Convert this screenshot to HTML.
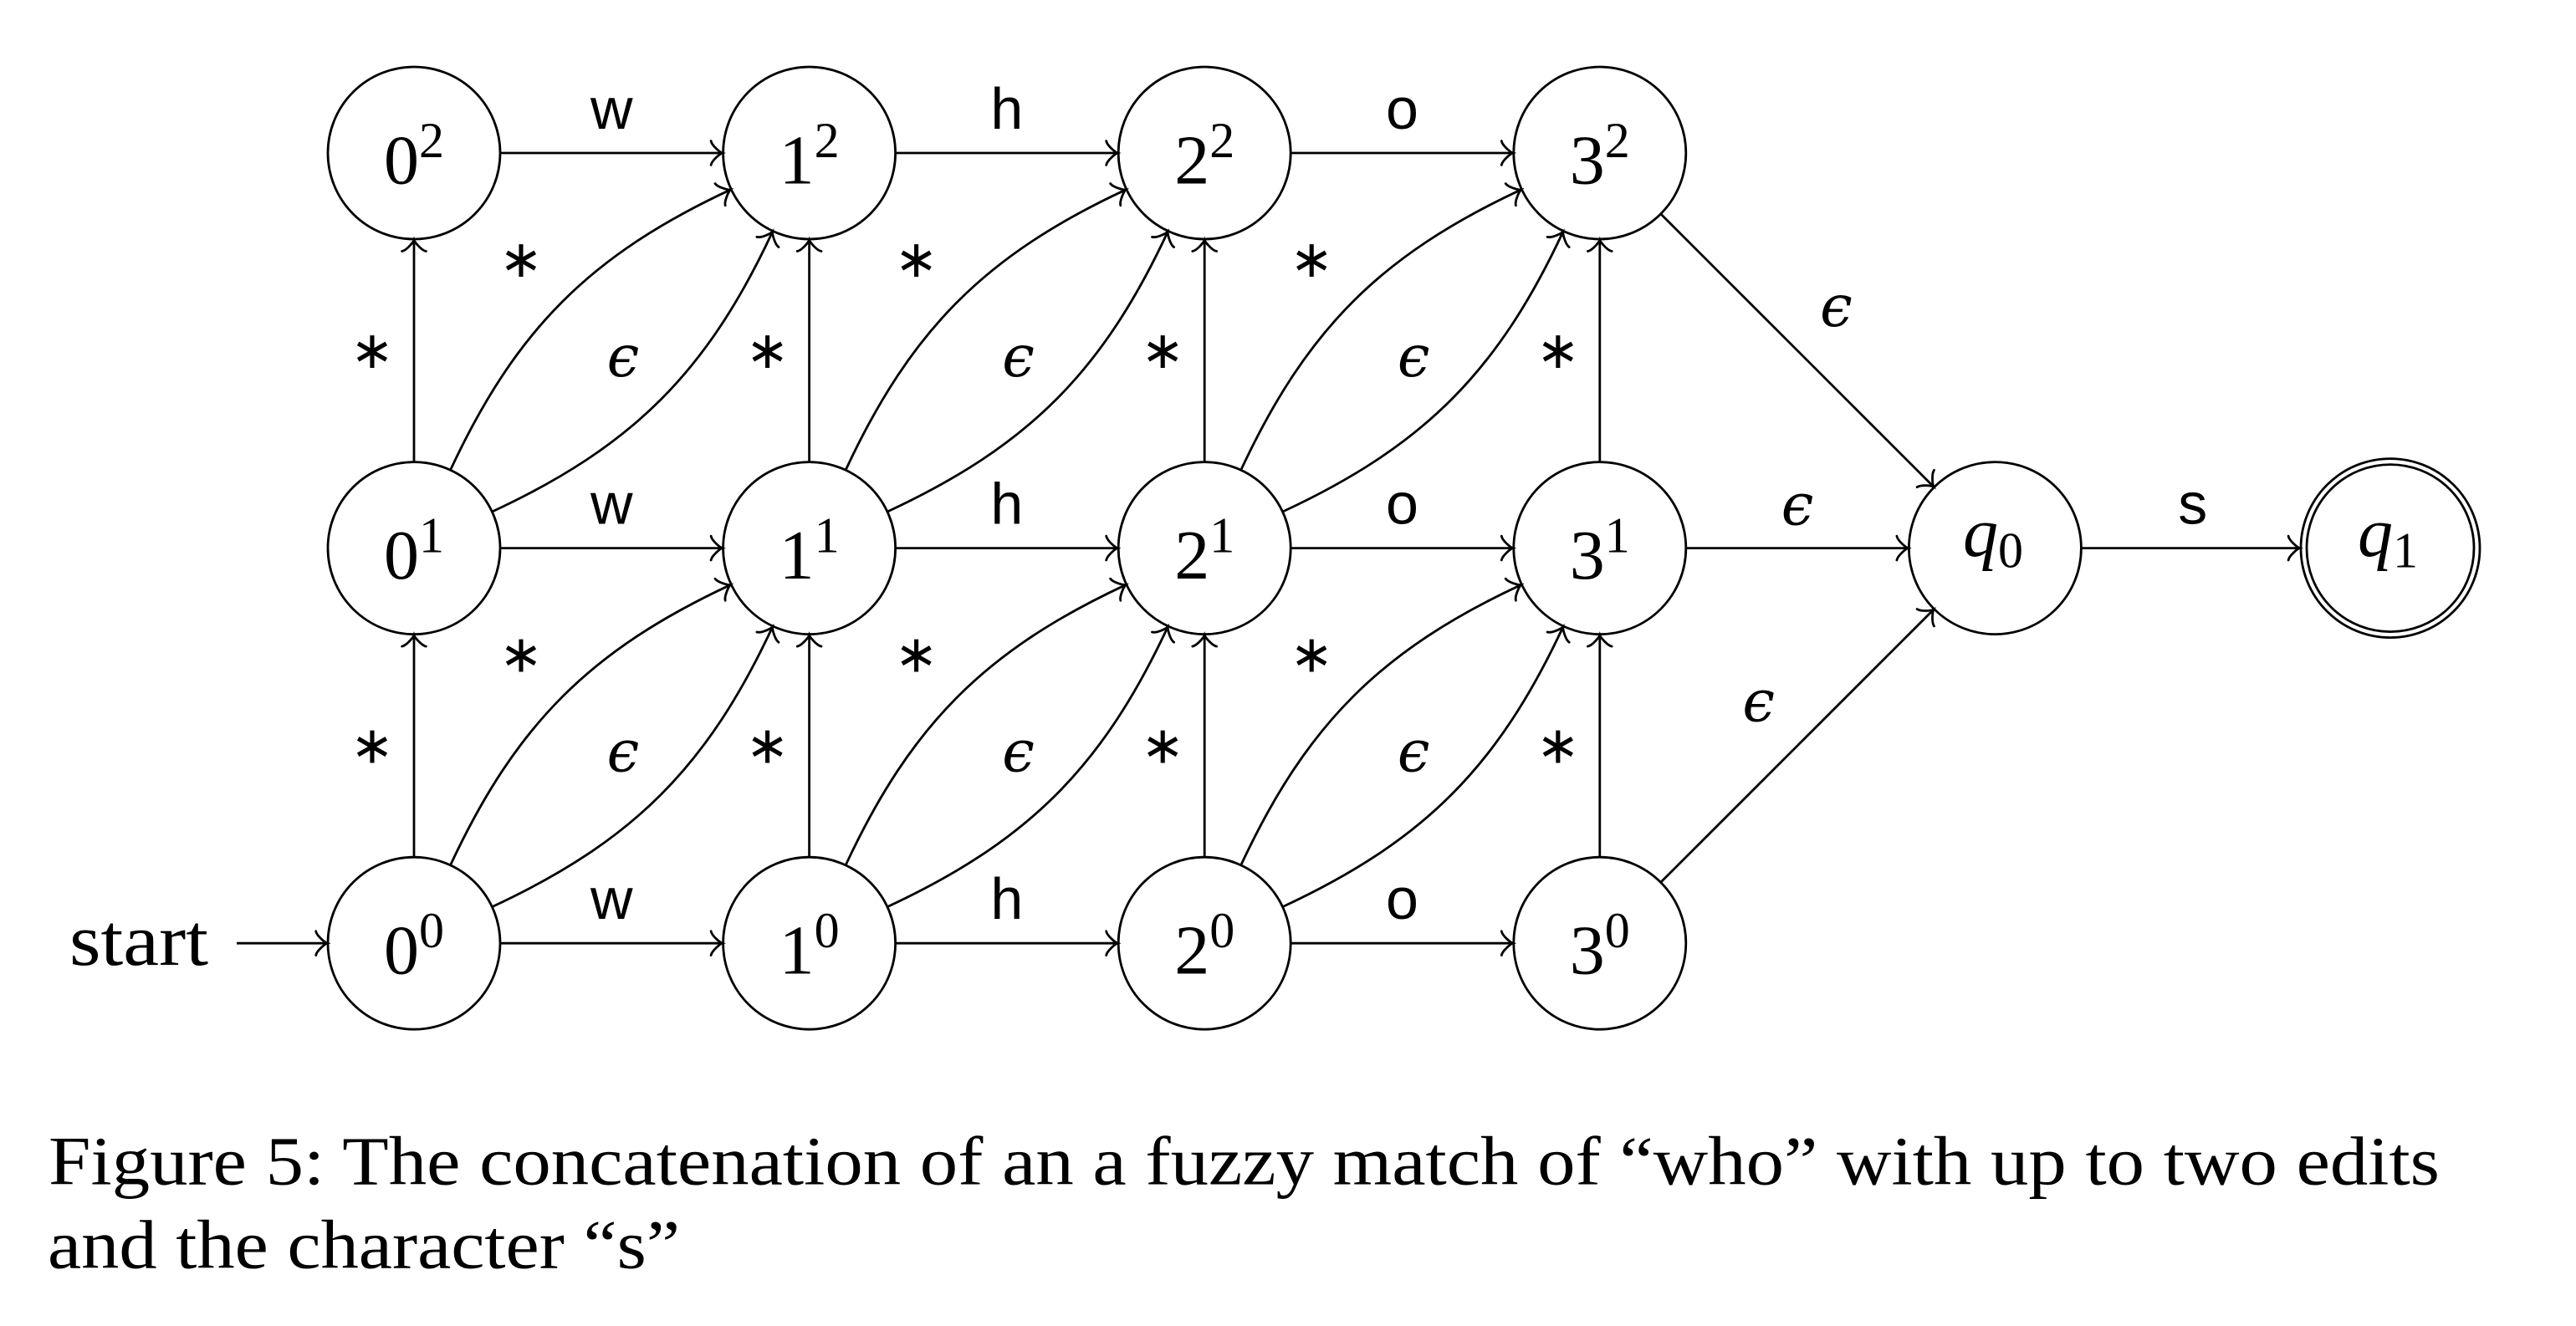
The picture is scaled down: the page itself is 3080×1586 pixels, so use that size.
<!DOCTYPE html>
<html><head><meta charset="utf-8">
<style>
html,body{margin:0;padding:0;background:#fff;}
svg{display:block;}
.c{fill:#fff;stroke:#000;stroke-width:2.8;}
.e{fill:none;stroke:#000;stroke-width:2.8;}
.nl{font-family:"Liberation Serif",serif;font-size:84px;text-anchor:middle;}
.sl{font-family:"Liberation Sans",sans-serif;font-size:70px;text-anchor:middle;}
.as{font-family:"DejaVu Sans",sans-serif;font-size:62px;text-anchor:middle;}
.ep{font-family:"DejaVu Serif",serif;font-style:italic;font-size:69px;text-anchor:middle;}
.cap{font-family:"Liberation Serif",serif;font-size:83px;}
</style></head><body>
<svg xmlns="http://www.w3.org/2000/svg" width="3080" height="1586" viewBox="0 0 3080 1586">
<defs>
<path id="ah" d="M-13.5,-14.4 C-12.6,-9 -2.7,-0.9 0,0 C-2.7,0.9 -12.6,9 -13.5,14.4" fill="none" stroke="#000" stroke-width="2.8" stroke-linecap="round"/>
</defs>
<rect width="3080" height="1586" fill="#fff"/>

<!-- circles -->
<g>
<circle class="c" cx="495" cy="183" r="103"/>
<circle class="c" cx="967.6" cy="183" r="103"/>
<circle class="c" cx="1440.2" cy="183" r="103"/>
<circle class="c" cx="1912.8" cy="183" r="103"/>
<circle class="c" cx="495" cy="655.6" r="103"/>
<circle class="c" cx="967.6" cy="655.6" r="103"/>
<circle class="c" cx="1440.2" cy="655.6" r="103"/>
<circle class="c" cx="1912.8" cy="655.6" r="103"/>
<circle class="c" cx="495" cy="1128.2" r="103"/>
<circle class="c" cx="967.6" cy="1128.2" r="103"/>
<circle class="c" cx="1440.2" cy="1128.2" r="103"/>
<circle class="c" cx="1912.8" cy="1128.2" r="103"/>
<circle class="c" cx="2385.4" cy="655.6" r="103"/>
<circle class="c" cx="2858" cy="655.6" r="107"/>
<circle class="c" cx="2858" cy="655.6" r="100"/>
</g>

<!-- node labels -->
<text class="nl" x="495" y="219.5">0<tspan dy="-31.5" font-size="60">2</tspan></text>
<text class="nl" x="967.6" y="219.5">1<tspan dy="-31.5" font-size="60">2</tspan></text>
<text class="nl" x="1440.2" y="219.5">2<tspan dy="-31.5" font-size="60">2</tspan></text>
<text class="nl" x="1912.8" y="219.5">3<tspan dy="-31.5" font-size="60">2</tspan></text>
<text class="nl" x="495" y="692.1">0<tspan dy="-31.5" font-size="60">1</tspan></text>
<text class="nl" x="967.6" y="692.1">1<tspan dy="-31.5" font-size="60">1</tspan></text>
<text class="nl" x="1440.2" y="692.1">2<tspan dy="-31.5" font-size="60">1</tspan></text>
<text class="nl" x="1912.8" y="692.1">3<tspan dy="-31.5" font-size="60">1</tspan></text>
<text class="nl" x="495" y="1164.7">0<tspan dy="-31.5" font-size="60">0</tspan></text>
<text class="nl" x="967.6" y="1164.7">1<tspan dy="-31.5" font-size="60">0</tspan></text>
<text class="nl" x="1440.2" y="1164.7">2<tspan dy="-31.5" font-size="60">0</tspan></text>
<text class="nl" x="1912.8" y="1164.7">3<tspan dy="-31.5" font-size="60">0</tspan></text>
<text class="nl" x="2383" y="665.2"><tspan font-style="italic">q</tspan><tspan dy="13.5" font-size="60">0</tspan></text>
<text class="nl" x="2855" y="665.2"><tspan font-style="italic">q</tspan><tspan dy="13.5" font-size="60">1</tspan></text>

<!-- start -->
<text x="83" y="1154" font-family="Liberation Serif, serif" font-size="88" textLength="166" lengthAdjust="spacingAndGlyphs">start</text>
<path class="e" d="M283,1128.2H389"/>
<use href="#ah" transform="translate(391.2,1128.2)"/>

<!-- ===== Row 0 (bottom) ===== -->
<!-- 0^0 -->
<g transform="translate(495,1128.2)">
<path class="e" d="M104,0H366"/><use href="#ah" transform="translate(368.6,0)"/>
<text class="sl" x="236.3" y="-29">w</text>
<path class="e" d="M0,-104V-366"/><use href="#ah" transform="translate(0,-368.6) rotate(-90)"/>
<text class="as" x="-50" y="-215.6">∗</text>
<path class="e" d="M43.95,-94.26C122.15,-261.96 210.64,-350.45 378.34,-428.65"/>
<use href="#ah" transform="translate(378.34,-428.65) rotate(-25)"/>
<path class="e" d="M94.26,-43.95C261.96,-122.15 350.45,-210.64 428.65,-378.34"/>
<use href="#ah" transform="translate(428.65,-378.34) rotate(-65)"/>
<text class="as" x="128" y="-324.6">∗</text>
<text class="ep" x="250" y="-205.6">ϵ</text>
</g>
<!-- 1^0 -->
<g transform="translate(967.6,1128.2)">
<path class="e" d="M104,0H366"/><use href="#ah" transform="translate(368.6,0)"/>
<text class="sl" x="236.3" y="-29">h</text>
<path class="e" d="M0,-104V-366"/><use href="#ah" transform="translate(0,-368.6) rotate(-90)"/>
<text class="as" x="-50" y="-215.6">∗</text>
<path class="e" d="M43.95,-94.26C122.15,-261.96 210.64,-350.45 378.34,-428.65"/>
<use href="#ah" transform="translate(378.34,-428.65) rotate(-25)"/>
<path class="e" d="M94.26,-43.95C261.96,-122.15 350.45,-210.64 428.65,-378.34"/>
<use href="#ah" transform="translate(428.65,-378.34) rotate(-65)"/>
<text class="as" x="128" y="-324.6">∗</text>
<text class="ep" x="250" y="-205.6">ϵ</text>
</g>
<!-- 2^0 -->
<g transform="translate(1440.2,1128.2)">
<path class="e" d="M104,0H366"/><use href="#ah" transform="translate(368.6,0)"/>
<text class="sl" x="236.3" y="-29">o</text>
<path class="e" d="M0,-104V-366"/><use href="#ah" transform="translate(0,-368.6) rotate(-90)"/>
<text class="as" x="-50" y="-215.6">∗</text>
<path class="e" d="M43.95,-94.26C122.15,-261.96 210.64,-350.45 378.34,-428.65"/>
<use href="#ah" transform="translate(378.34,-428.65) rotate(-25)"/>
<path class="e" d="M94.26,-43.95C261.96,-122.15 350.45,-210.64 428.65,-378.34"/>
<use href="#ah" transform="translate(428.65,-378.34) rotate(-65)"/>
<text class="as" x="128" y="-324.6">∗</text>
<text class="ep" x="250" y="-205.6">ϵ</text>
</g>
<!-- 3^0 -->
<g transform="translate(1912.8,1128.2)">
<path class="e" d="M0,-104V-366"/><use href="#ah" transform="translate(0,-368.6) rotate(-90)"/>
<text class="as" x="-50" y="-215.6">∗</text>
<path class="e" d="M73.54,-73.54L397.2,-397.2"/><use href="#ah" transform="translate(399.06,-399.06) rotate(-45)"/>
<text class="ep" x="189.9" y="-265.6">ϵ</text>
</g>

<!-- ===== Row 1 (middle) ===== -->
<g transform="translate(495,655.6)">
<path class="e" d="M104,0H366"/><use href="#ah" transform="translate(368.6,0)"/>
<text class="sl" x="236.3" y="-29">w</text>
<path class="e" d="M0,-104V-366"/><use href="#ah" transform="translate(0,-368.6) rotate(-90)"/>
<text class="as" x="-50" y="-215.6">∗</text>
<path class="e" d="M43.95,-94.26C122.15,-261.96 210.64,-350.45 378.34,-428.65"/>
<use href="#ah" transform="translate(378.34,-428.65) rotate(-25)"/>
<path class="e" d="M94.26,-43.95C261.96,-122.15 350.45,-210.64 428.65,-378.34"/>
<use href="#ah" transform="translate(428.65,-378.34) rotate(-65)"/>
<text class="as" x="128" y="-324.6">∗</text>
<text class="ep" x="250" y="-205.6">ϵ</text>
</g>
<g transform="translate(967.6,655.6)">
<path class="e" d="M104,0H366"/><use href="#ah" transform="translate(368.6,0)"/>
<text class="sl" x="236.3" y="-29">h</text>
<path class="e" d="M0,-104V-366"/><use href="#ah" transform="translate(0,-368.6) rotate(-90)"/>
<text class="as" x="-50" y="-215.6">∗</text>
<path class="e" d="M43.95,-94.26C122.15,-261.96 210.64,-350.45 378.34,-428.65"/>
<use href="#ah" transform="translate(378.34,-428.65) rotate(-25)"/>
<path class="e" d="M94.26,-43.95C261.96,-122.15 350.45,-210.64 428.65,-378.34"/>
<use href="#ah" transform="translate(428.65,-378.34) rotate(-65)"/>
<text class="as" x="128" y="-324.6">∗</text>
<text class="ep" x="250" y="-205.6">ϵ</text>
</g>
<g transform="translate(1440.2,655.6)">
<path class="e" d="M104,0H366"/><use href="#ah" transform="translate(368.6,0)"/>
<text class="sl" x="236.3" y="-29">o</text>
<path class="e" d="M0,-104V-366"/><use href="#ah" transform="translate(0,-368.6) rotate(-90)"/>
<text class="as" x="-50" y="-215.6">∗</text>
<path class="e" d="M43.95,-94.26C122.15,-261.96 210.64,-350.45 378.34,-428.65"/>
<use href="#ah" transform="translate(378.34,-428.65) rotate(-25)"/>
<path class="e" d="M94.26,-43.95C261.96,-122.15 350.45,-210.64 428.65,-378.34"/>
<use href="#ah" transform="translate(428.65,-378.34) rotate(-65)"/>
<text class="as" x="128" y="-324.6">∗</text>
<text class="ep" x="250" y="-205.6">ϵ</text>
</g>
<g transform="translate(1912.8,655.6)">
<path class="e" d="M0,-104V-366"/><use href="#ah" transform="translate(0,-368.6) rotate(-90)"/>
<text class="as" x="-50" y="-215.6">∗</text>
<path class="e" d="M104,0H366"/><use href="#ah" transform="translate(368.6,0)"/>
<text class="ep" x="236.3" y="-28">ϵ</text>
</g>

<!-- ===== Row 2 (top) ===== -->
<g transform="translate(495,183)">
<path class="e" d="M104,0H366"/><use href="#ah" transform="translate(368.6,0)"/>
<text class="sl" x="236.3" y="-29">w</text>
</g>
<g transform="translate(967.6,183)">
<path class="e" d="M104,0H366"/><use href="#ah" transform="translate(368.6,0)"/>
<text class="sl" x="236.3" y="-29">h</text>
</g>
<g transform="translate(1440.2,183)">
<path class="e" d="M104,0H366"/><use href="#ah" transform="translate(368.6,0)"/>
<text class="sl" x="236.3" y="-29">o</text>
</g>
<g transform="translate(1912.8,183)">
<path class="e" d="M73.54,73.54L397.2,397.2"/><use href="#ah" transform="translate(399.06,399.06) rotate(45)"/>
<text class="ep" x="282.7" y="207">ϵ</text>
</g>

<!-- q0 -> q1 -->
<g transform="translate(2385.4,655.6)">
<path class="e" d="M104,0H362"/><use href="#ah" transform="translate(364.2,0)"/>
<text class="sl" x="236.3" y="-29">s</text>
</g>

<!-- caption -->
<text class="cap" x="58" y="1416.7" textLength="2859" lengthAdjust="spacingAndGlyphs">Figure 5: The concatenation of an a fuzzy match of “who” with up to two edits</text>
<text class="cap" x="57" y="1516.7" textLength="756" lengthAdjust="spacingAndGlyphs">and the character “s”</text>
</svg>
</body></html>
